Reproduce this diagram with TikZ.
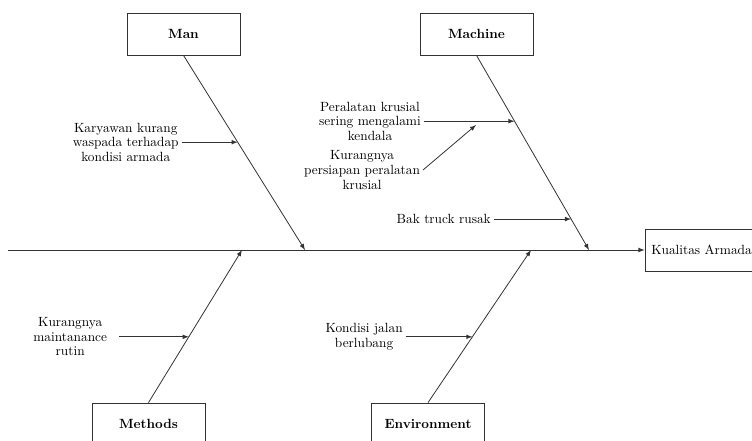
\documentclass[tikz,border=0pt]{standalone}
\usepackage{tikz}
\usetikzlibrary{calc,positioning,arrows}

\begin{document}
\begin{tikzpicture}[x=0.75pt,y=-0.75pt,line width=0.6pt]
\tikzstyle{box}=[rectangle, draw=black!80, minimum width=84.75pt, minimum height=31.5pt,
                 font=\fontsize{10}{11}\selectfont\bfseries]
\tikzstyle{cause}=[align=center, inner sep=2pt, font=\fontsize{10}{11}\selectfont]
\tikzstyle{bone}=[-latex, draw=black!80]
\useasboundingbox (0,0) rectangle (752,441);
\node[box] (man) at (183.5,34){Man};
\node[box] (machine) at (476.5,34){Machine};
\node[box] (methods) at (148.5,424){Methods};
\node[box] (env) at (428,424){Environment};
\node[box, font=\fontsize{10}{11}\selectfont] (effect) at (701.5,250){Kualitas Armada};
\coordinate (tail) at (8,250);
\coordinate (h1) at (305,250);
\coordinate (h2) at (589,250);
\coordinate (h3) at (242,250);
\coordinate (h4) at (531,250);
\draw[bone] (tail) -- (effect);
\foreach \i/\j in {man.south/h1,machine.south/h2,methods.north/h3,env.north/h4}{\draw[bone] (\i) -- (\j);}
\coordinate (c1) at ($(man.south)!0.446!(h1)$);
\coordinate (c2) at ($(machine.south)!0.338!(h2)$);
\coordinate (c3) at ($(machine.south)!0.841!(h2)$);
\coordinate (c4) at ($(methods.north)!0.431!(h3)$);
\coordinate (c5) at ($(env.north)!0.431!(h4)$);
\coordinate (d2) at (476,125);
\node[cause, left=42pt of c1] (k1) {Karyawan kurang\\waspada terhadap\\kondisi armada};
\node[cause, left=68pt of c2] (p1) {Peralatan krusial\\sering mengalami\\kendala};
\node[cause, anchor=east] (p2) at (423,170) {Kurangnya\\persiapan peralatan\\krusial};
\node[cause, left=58pt of c3] (b1) {Bak truck rusak};
\node[cause, inner xsep=9pt, left=52pt of c4] (m1) {Kurangnya\\maintanance\\rutin};
\node[cause, left=50pt of c5] (j1) {Kondisi jalan\\berlubang};
\foreach \i/\j in {k1/c1,p1/c2,b1/c3,m1/c4,j1/c5}{\draw[bone] (\i) -- (\j);}
\draw[bone] (p2.east) -- (d2);
\end{tikzpicture}
\end{document}
